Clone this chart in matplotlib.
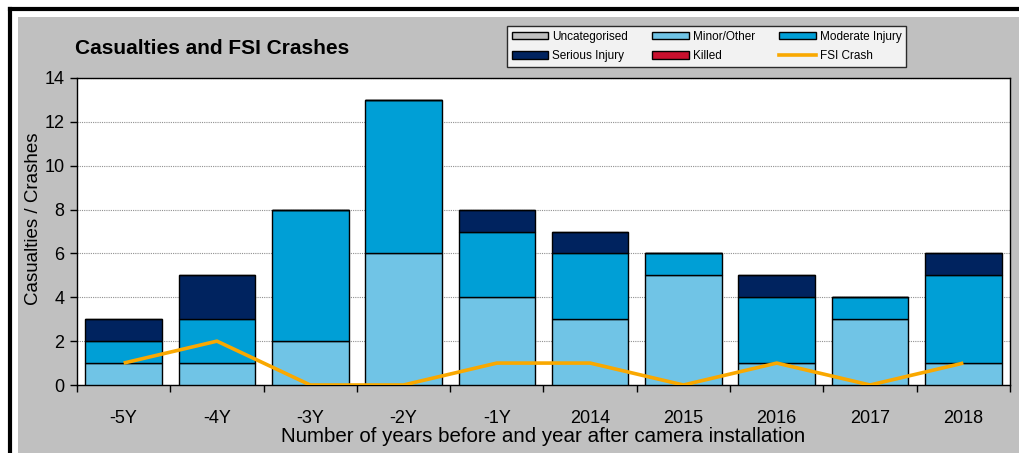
import numpy as np
import matplotlib.pyplot as plt
from matplotlib.patches import Rectangle, Patch
from matplotlib.lines import Line2D

plt.rcParams['font.family'] = ['Liberation Sans', 'DejaVu Sans']

# Data
categories = ['-5Y', '-4Y', '-3Y', '-2Y', '-1Y', '2014', '2015', '2016', '2017', '2018']
uncategorised = [0, 0, 0, 0, 0, 0, 0, 0, 0, 0]
minor = [1, 1, 2, 6, 4, 3, 5, 1, 3, 1]
moderate = [1, 2, 6, 7, 3, 3, 1, 3, 1, 4]
serious = [1, 2, 0, 0, 1, 1, 0, 1, 0, 1]
killed = [0, 0, 0, 0, 0, 0, 0, 0, 0, 0]
fsi = [1, 2, 0, 0, 1, 1, 0, 1, 0, 1]

series = [
    ('Uncategorised', uncategorised, '#c0c0c0'),
    ('Minor/Other', minor, '#70c4e6'),
    ('Moderate Injury', moderate, '#009fd6'),
    ('Serious Injury', serious, '#00235f'),
    ('Killed', killed, '#c8102e'),
]
line_color = '#f9a800'

W, H = 1020, 453
fig = plt.figure(figsize=(W / 100, H / 100), dpi=100)
fig.patch.set_facecolor('white')

# gray chart area and black frame lines
fig.add_artist(Rectangle((18 / W, 0), 1 - 18 / W, 1 - 17 / H,
                         transform=fig.transFigure, facecolor='#c0c0c0',
                         edgecolor='none', zorder=0))
fig.add_artist(Line2D([10 / W, 1], [1 - 9 / H, 1 - 9 / H], transform=fig.transFigure,
                      color='black', lw=3, zorder=1))
fig.add_artist(Line2D([10.5 / W, 10.5 / W], [0, 1 - 9 / H], transform=fig.transFigure,
                      color='black', lw=3, zorder=1))

ax = fig.add_axes([77 / W, 1 - 385 / H, 933 / W, 307 / H])
ax.set_facecolor('white')

x = np.arange(len(categories))
bottom = np.zeros(len(categories))
for name, vals, col in series:
    vals = np.array(vals, dtype=float)
    ax.bar(x, vals, bottom=bottom, width=0.82, color=col, edgecolor='black',
           linewidth=1, zorder=3)
    bottom += vals

ax.plot(x, fsi, color=line_color, lw=2.6, zorder=4, solid_capstyle='butt')

ax.set_xlim(-0.5, len(categories) - 0.5)
ax.set_ylim(0, 14)
ax.set_yticks(np.arange(0, 15, 2))
ax.yaxis.grid(True, linestyle=(0, (1, 1)), color='#909090', lw=0.8, zorder=0)
ax.set_axisbelow(True)

ax.set_xticks(x)
ax.set_xticklabels(categories)
ax.set_xticks(np.arange(-0.5, len(categories), 1), minor=True)
ax.tick_params(axis='x', which='major', length=0, pad=18, labelsize=13)
ax.tick_params(axis='x', which='minor', length=5, width=1, direction='out')
ax.tick_params(axis='y', length=5, width=1, direction='out', labelsize=13, pad=4)

for s in ax.spines.values():
    s.set_color('black')
    s.set_linewidth(1)

ax.set_ylabel('Casualties / Crashes', fontsize=13.5, va='center')
ax.yaxis.set_label_coords(-0.047, 0.54)
ax.set_xlabel('Number of years before and year after camera installation',
              fontsize=14.8, labelpad=0)

fig.text(75 / W, 1 - 48 / H, 'Casualties and FSI Crashes', fontsize=15,
         fontweight='bold', va='center', ha='left')

handles = [Patch(facecolor=col, edgecolor='black', linewidth=1, label=name)
           for name, vals, col in series]
handles.insert(5, Line2D([], [], color=line_color, lw=2.6, label='FSI Crash'))
order = [0, 3, 1, 4, 2, 5]
handles = [handles[i] for i in order]
leg = fig.legend(handles=handles, loc='upper left',
                 bbox_to_anchor=(507 / W, 1 - 67 / H, 399 / W, 41 / H),
                 mode='expand', ncol=3, fontsize=8.5, frameon=True, fancybox=False,
                 edgecolor='black', borderaxespad=0, handlelength=3.1,
                 handleheight=0.6, handletextpad=0.3, labelspacing=0.65,
                 borderpad=0.4, columnspacing=0.6)
leg.get_frame().set_linewidth(1)

fig.savefig('out.png', dpi=100, facecolor=fig.get_facecolor())
